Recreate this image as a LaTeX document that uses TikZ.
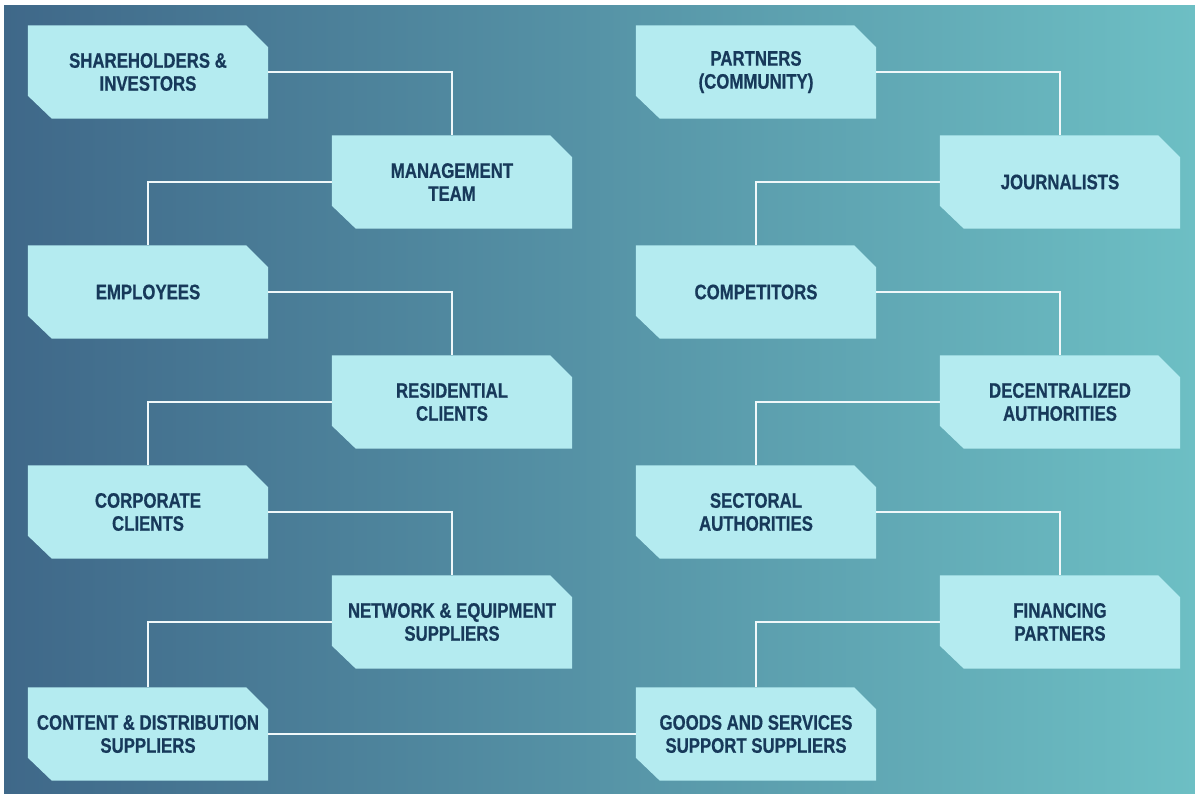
\documentclass[tikz,border=0pt]{standalone}
\usepackage{fontspec}
\newfontfamily\boxfont{Liberation Sans}[FakeStretch=0.80,BoldFeatures={FakeBold=0.6}]
\definecolor{bgleft}{HTML}{3F6889}
\definecolor{bgright}{HTML}{6DBFC4}
\definecolor{boxfill}{HTML}{B4EBF0}
\definecolor{boxtext}{HTML}{17395A}
\definecolor{linkcol}{HTML}{F0F8FA}
\pgfdeclarelayer{backdrop}
\pgfdeclarelayer{boxlayer}
\pgfsetlayers{backdrop,boxlayer,main}
\tikzset{
  stake/.style={rectangle, draw=none, minimum width=240pt, minimum height=93pt, inner sep=0pt,
    align=center, text=boxtext, font=\boxfont\bfseries\fontsize{21}{23}\selectfont},
  link/.style={draw=linkcol, line width=2.7pt}
}
\newcommand\chamfbox[1]{%
  \begin{pgfonlayer}{boxlayer}
  \fill[boxfill] (#1.north west) -- ([xshift=-22pt]#1.north east) -- ([yshift=-22pt]#1.north east)
    -- (#1.south east) -- ([xshift=24pt]#1.south west) -- ([yshift=23pt]#1.south west) -- cycle;
  \end{pgfonlayer}}
\begin{document}
\begin{tikzpicture}[x=1pt,y=-1pt]
\useasboundingbox (0,0) rectangle (1195,796);
\begin{pgfonlayer}{backdrop}
\fill[white] (0,0) rectangle (1195,796);
\shade[left color=bgleft, right color=bgright] (4,5) rectangle (1195,793);
\end{pgfonlayer}
% left columns
\node[stake] (sh) at (148,72) {SHAREHOLDERS \&\\INVESTORS};
\node[stake] (mg) at (452,182) {MANAGEMENT\\TEAM};
\node[stake] (em) at (148,292) {EMPLOYEES};
\node[stake] (rc) at (452,402) {RESIDENTIAL\\CLIENTS};
\node[stake] (cc) at (148,512) {CORPORATE\\CLIENTS};
\node[stake] (ne) at (452,622) {NETWORK \& EQUIPMENT\\SUPPLIERS};
\node[stake] (cd) at (148,734) {CONTENT \& DISTRIBUTION\\SUPPLIERS};
% right columns
\node[stake] (pa) at (756,72) {PARTNERS\\(COMMUNITY)};
\node[stake] (jo) at (1060,182) {JOURNALISTS};
\node[stake] (co) at (756,292) {COMPETITORS};
\node[stake] (da) at (1060,402) {DECENTRALIZED\\AUTHORITIES};
\node[stake] (sa) at (756,512) {SECTORAL\\AUTHORITIES};
\node[stake] (fp) at (1060,622) {FINANCING\\PARTNERS};
\node[stake] (gs) at (756,734) {GOODS AND SERVICES\\SUPPORT SUPPLIERS};
\foreach \n in {sh,mg,em,rc,cc,ne,cd,pa,jo,co,da,sa,fp,gs}{\chamfbox{\n}}
% connectors
\draw[link] (sh.east) -| (mg.north);
\draw[link] (mg.west) -| (em.north);
\draw[link] (em.east) -| (rc.north);
\draw[link] (rc.west) -| (cc.north);
\draw[link] (cc.east) -| (ne.north);
\draw[link] (ne.west) -| (cd.north);
\draw[link] (cd.east) -- (gs.west);
\draw[link] (gs.north) |- (fp.west);
\draw[link] (sa.east) -| (fp.north);
\draw[link] (da.west) -| (sa.north);
\draw[link] (co.east) -| (da.north);
\draw[link] (jo.west) -| (co.north);
\draw[link] (pa.east) -| (jo.north);
\end{tikzpicture}
\end{document}
